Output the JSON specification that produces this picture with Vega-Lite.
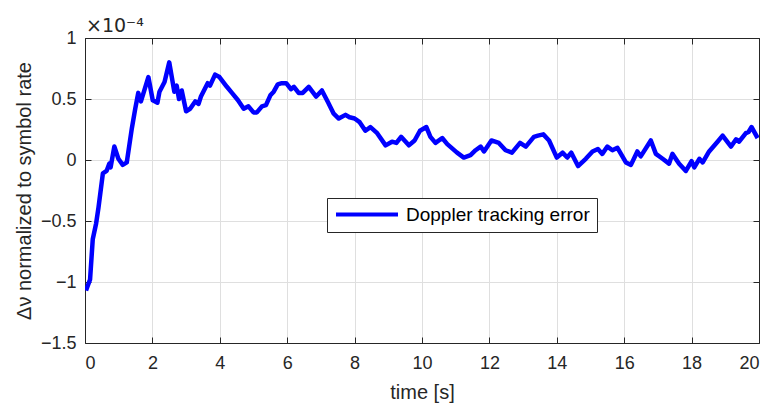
{
  "$schema": "https://vega.github.io/schema/vega-lite/v6.json",
  "width": 674,
  "height": 305,
  "autosize": "none",
  "padding": {"left": 85, "top": 38, "right": 8, "bottom": 60},
  "background": "white",
  "title": {"text": "×10⁻⁴", "anchor": "start", "frame": "group", "baseline": "bottom", "offset": -26, "dx": 1, "fontSize": 19, "font": "DejaVu Sans", "fontWeight": "normal", "color": "#262626"},
  "config": {
    "view": {"stroke": null},
    "font": "Liberation Sans",
    "title": {"fontSize": 19, "font": "DejaVu Sans", "fontWeight": "normal"},
    "axis": {"domainColor": "#262626", "domainWidth": 1, "tickColor": "#262626", "tickSize": -6, "tickWidth": 1, "labelColor": "#262626", "labelFontSize": 18, "labelFont": "Liberation Sans", "titleColor": "#262626", "titleFont": "Liberation Sans", "titleFontSize": 20, "titleFontWeight": "normal", "gridColor": "#dfdfdf", "gridWidth": 1}
  },
  "data": {"values": [
    {"t": 0.03, "v": -1.07}, {"t": 0.15, "v": -0.98}, {"t": 0.23, "v": -0.65}, {"t": 0.33, "v": -0.52}, {"t": 0.40, "v": -0.39},
    {"t": 0.53, "v": -0.11}, {"t": 0.64, "v": -0.09}, {"t": 0.72, "v": -0.03}, {"t": 0.76, "v": -0.06}, {"t": 0.87, "v": 0.11},
    {"t": 0.99, "v": 0.01}, {"t": 1.12, "v": -0.04}, {"t": 1.24, "v": -0.02}, {"t": 1.39, "v": 0.26}, {"t": 1.49, "v": 0.42},
    {"t": 1.58, "v": 0.55}, {"t": 1.66, "v": 0.48}, {"t": 1.76, "v": 0.57}, {"t": 1.88, "v": 0.68}, {"t": 2.01, "v": 0.49},
    {"t": 2.15, "v": 0.47}, {"t": 2.21, "v": 0.56}, {"t": 2.36, "v": 0.64}, {"t": 2.50, "v": 0.80}, {"t": 2.65, "v": 0.56},
    {"t": 2.72, "v": 0.61}, {"t": 2.79, "v": 0.50}, {"t": 2.87, "v": 0.57}, {"t": 3.00, "v": 0.40}, {"t": 3.12, "v": 0.42},
    {"t": 3.27, "v": 0.48}, {"t": 3.37, "v": 0.46}, {"t": 3.44, "v": 0.52}, {"t": 3.64, "v": 0.63}, {"t": 3.71, "v": 0.61},
    {"t": 3.86, "v": 0.70}, {"t": 3.99, "v": 0.68}, {"t": 4.21, "v": 0.60}, {"t": 4.36, "v": 0.55}, {"t": 4.54, "v": 0.49},
    {"t": 4.71, "v": 0.42}, {"t": 4.85, "v": 0.44}, {"t": 5.00, "v": 0.39}, {"t": 5.10, "v": 0.39}, {"t": 5.25, "v": 0.44},
    {"t": 5.37, "v": 0.45}, {"t": 5.50, "v": 0.53}, {"t": 5.60, "v": 0.56}, {"t": 5.72, "v": 0.62}, {"t": 5.84, "v": 0.63},
    {"t": 5.97, "v": 0.63}, {"t": 6.11, "v": 0.58}, {"t": 6.20, "v": 0.60}, {"t": 6.34, "v": 0.55}, {"t": 6.46, "v": 0.55},
    {"t": 6.64, "v": 0.60}, {"t": 6.86, "v": 0.52}, {"t": 7.03, "v": 0.57}, {"t": 7.20, "v": 0.48}, {"t": 7.38, "v": 0.38},
    {"t": 7.53, "v": 0.34}, {"t": 7.73, "v": 0.37}, {"t": 7.85, "v": 0.35}, {"t": 8.00, "v": 0.34}, {"t": 8.15, "v": 0.31},
    {"t": 8.32, "v": 0.24}, {"t": 8.47, "v": 0.27}, {"t": 8.67, "v": 0.22}, {"t": 8.92, "v": 0.12}, {"t": 9.11, "v": 0.15},
    {"t": 9.24, "v": 0.14}, {"t": 9.38, "v": 0.19}, {"t": 9.61, "v": 0.12}, {"t": 9.78, "v": 0.16}, {"t": 9.94, "v": 0.24},
    {"t": 10.13, "v": 0.27}, {"t": 10.25, "v": 0.19}, {"t": 10.40, "v": 0.14}, {"t": 10.60, "v": 0.18}, {"t": 10.75, "v": 0.13},
    {"t": 11.04, "v": 0.06}, {"t": 11.24, "v": 0.02}, {"t": 11.44, "v": 0.04}, {"t": 11.59, "v": 0.08}, {"t": 11.74, "v": 0.11},
    {"t": 11.84, "v": 0.07}, {"t": 12.06, "v": 0.16}, {"t": 12.28, "v": 0.14}, {"t": 12.48, "v": 0.08}, {"t": 12.67, "v": 0.06},
    {"t": 12.91, "v": 0.14}, {"t": 13.08, "v": 0.11}, {"t": 13.32, "v": 0.19}, {"t": 13.44, "v": 0.20}, {"t": 13.60, "v": 0.21},
    {"t": 13.77, "v": 0.16}, {"t": 14.00, "v": 0.02}, {"t": 14.17, "v": 0.06}, {"t": 14.31, "v": 0.02}, {"t": 14.43, "v": 0.06},
    {"t": 14.63, "v": -0.05}, {"t": 14.86, "v": 0.01}, {"t": 15.06, "v": 0.07}, {"t": 15.22, "v": 0.09}, {"t": 15.35, "v": 0.05},
    {"t": 15.50, "v": 0.11}, {"t": 15.65, "v": 0.08}, {"t": 15.80, "v": 0.10}, {"t": 16.05, "v": -0.02}, {"t": 16.20, "v": -0.04},
    {"t": 16.39, "v": 0.07}, {"t": 16.49, "v": 0.03}, {"t": 16.79, "v": 0.16}, {"t": 16.94, "v": 0.05}, {"t": 17.14, "v": 0.01},
    {"t": 17.33, "v": -0.03}, {"t": 17.43, "v": 0.05}, {"t": 17.63, "v": -0.03}, {"t": 17.83, "v": -0.09}, {"t": 18.00, "v": -0.01},
    {"t": 18.08, "v": -0.06}, {"t": 18.23, "v": 0.01}, {"t": 18.33, "v": -0.02}, {"t": 18.52, "v": 0.07}, {"t": 18.77, "v": 0.15},
    {"t": 18.92, "v": 0.20}, {"t": 19.17, "v": 0.11}, {"t": 19.32, "v": 0.17}, {"t": 19.41, "v": 0.15}, {"t": 19.61, "v": 0.22},
    {"t": 19.69, "v": 0.23}, {"t": 19.78, "v": 0.27}, {"t": 19.96, "v": 0.18}
  ]},
  "resolve": {"axis": {"x": "independent", "y": "independent"}},
  "layer": [
    {
      "mark": {"type": "line", "strokeWidth": 4.5, "clip": true, "strokeJoin": "round"},
      "encoding": {
        "x": {"field": "t", "type": "quantitative", "scale": {"domain": [0, 20], "nice": false, "zero": false},
              "axis": {"orient": "bottom", "values": [0, 2, 4, 6, 8, 10, 12, 14, 16, 18, 20], "title": "time [s]", "labelPadding": 17, "titlePadding": 10, "grid": true}},
        "y": {"field": "v", "type": "quantitative", "scale": {"domain": [-1.5, 1], "nice": false, "zero": false},
              "axis": {"orient": "left", "values": [-1.5, -1, -0.5, 0, 0.5, 1], "format": "~g", "title": "Δν normalized to symbol rate", "labelPadding": 15, "titlePadding": 6, "grid": true}},
        "color": {"datum": "Doppler tracking error", "type": "nominal", "scale": {"range": ["#0000ff"]},
                  "legend": {"orient": "none", "legendX": 242, "legendY": 160, "title": null, "symbolType": "stroke", "symbolSize": 3844, "symbolStrokeWidth": 4, "clipHeight": 19, "labelFontSize": 19, "labelFont": "Liberation Sans", "labelColor": "#000000", "labelOffset": 6, "labelLimit": 400, "strokeColor": "#262626", "fillColor": "white", "padding": 7, "symbolOpacity": 1}}
      }
    },
    {
      "mark": {"type": "line", "opacity": 0},
      "encoding": {
        "x": {"field": "t", "type": "quantitative", "scale": {"domain": [0, 20], "nice": false, "zero": false},
              "axis": {"orient": "top", "values": [0, 2, 4, 6, 8, 10, 12, 14, 16, 18, 20], "labels": false, "title": null, "grid": false}},
        "y": {"field": "v", "type": "quantitative", "scale": {"domain": [-1.5, 1], "nice": false, "zero": false},
              "axis": {"orient": "right", "values": [-1.5, -1, -0.5, 0, 0.5, 1], "labels": false, "title": null, "grid": false}}
      }
    }
  ]
}
